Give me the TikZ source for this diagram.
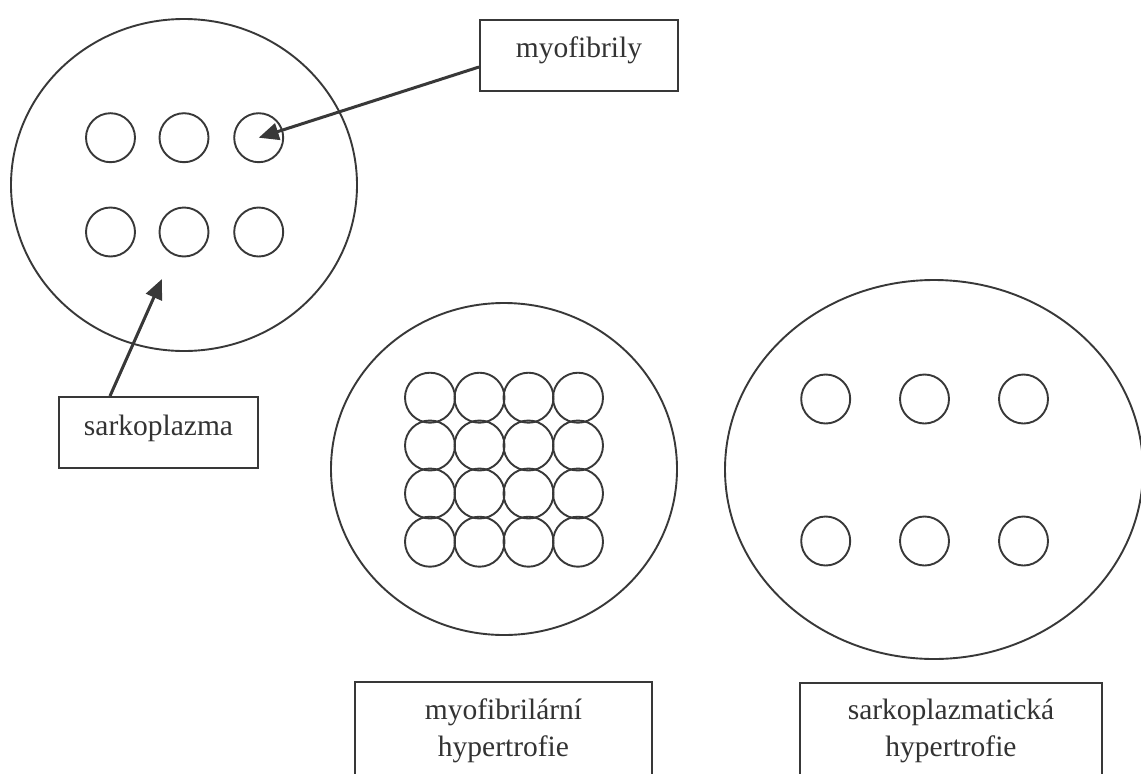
\documentclass[tikz,border=0pt]{standalone}
\usepackage{fontspec}
\setmainfont{Liberation Serif}
\usetikzlibrary{shapes.geometric,arrows.meta,calc}
\begin{document}
\begin{tikzpicture}[x=1pt,y=-1pt,
  outline/.style={draw=black!78, line width=1.9pt},
  cell/.style={circle, outline, minimum size=49pt, inner sep=0pt},
  fibre/.style={ellipse, outline, inner sep=0pt},
  labelbox/.style={rectangle, outline, inner sep=0pt},
  labeltext/.style={font=\fontsize{29.5}{37}\selectfont, text=black!80, align=center, inner sep=0pt},
  pointer/.style={draw=black!78, line width=3pt, -{Triangle[length=20pt,width=17pt]}}]
\clip (0,0) rectangle (1141,774);
\fill[white] (0,0) rectangle (1141,774);

% fibre 1
\node[fibre, minimum width=346pt, minimum height=332pt] (f1) at (184,185) {};
\foreach \i/\x in {1/110.5,2/184,3/258.7}{
  \node[cell] (a1\i) at (\x,137.7) {};
  \node[cell] (a2\i) at (\x,232) {};
}

% fibre 2
\node[fibre, minimum width=346pt, minimum height=332pt] (f2) at (504,469) {};
\foreach \i/\x in {1/430,2/479.5,3/528.5,4/578}{
  \foreach \j/\y in {1/397.7,2/445.5,3/493.5,4/541.7}{
    \node[cell, minimum size=50pt] (b\j\i) at (\x,\y) {};
  }
}

% fibre 3
\node[fibre, minimum width=418pt, minimum height=379pt] (f3) at (934,469.5) {};
\foreach \i/\x in {1/825.7,2/924.5,3/1023.5}{
  \node[cell] (c1\i) at (\x,399) {};
  \node[cell] (c2\i) at (\x,541) {};
}

% labels
\node[labelbox, minimum width=198pt, minimum height=71pt] (myo) at (579,55.5) {};
\node[labeltext] (myot) at (579,50) {myofibrily};

\node[labelbox, minimum width=199pt, minimum height=71pt] (sark) at (158.5,432.5) {};
\node[labeltext] (sarkt) at (158.5,428) {sarkoplazma};

\node[labelbox, minimum width=297pt, minimum height=120pt] (hyp1) at (503.5,742) {};
\node[labeltext] (hyp1t) at (503.5,731) {myofibrilární\\hypertrofie};

\node[labelbox, minimum width=302pt, minimum height=120pt] (hyp2) at (951,743) {};
\node[labeltext] (hyp2t) at (951,731) {sarkoplazmatická\\hypertrofie};

% pointers
\coordinate (sarkp) at (162,279);
\draw[pointer] ($(myo.west)+(0,11.5)$) -- (a13.center);
\draw[pointer] ($(sark.north)+(-48.5,0)$) -- (sarkp);
\end{tikzpicture}
\end{document}
